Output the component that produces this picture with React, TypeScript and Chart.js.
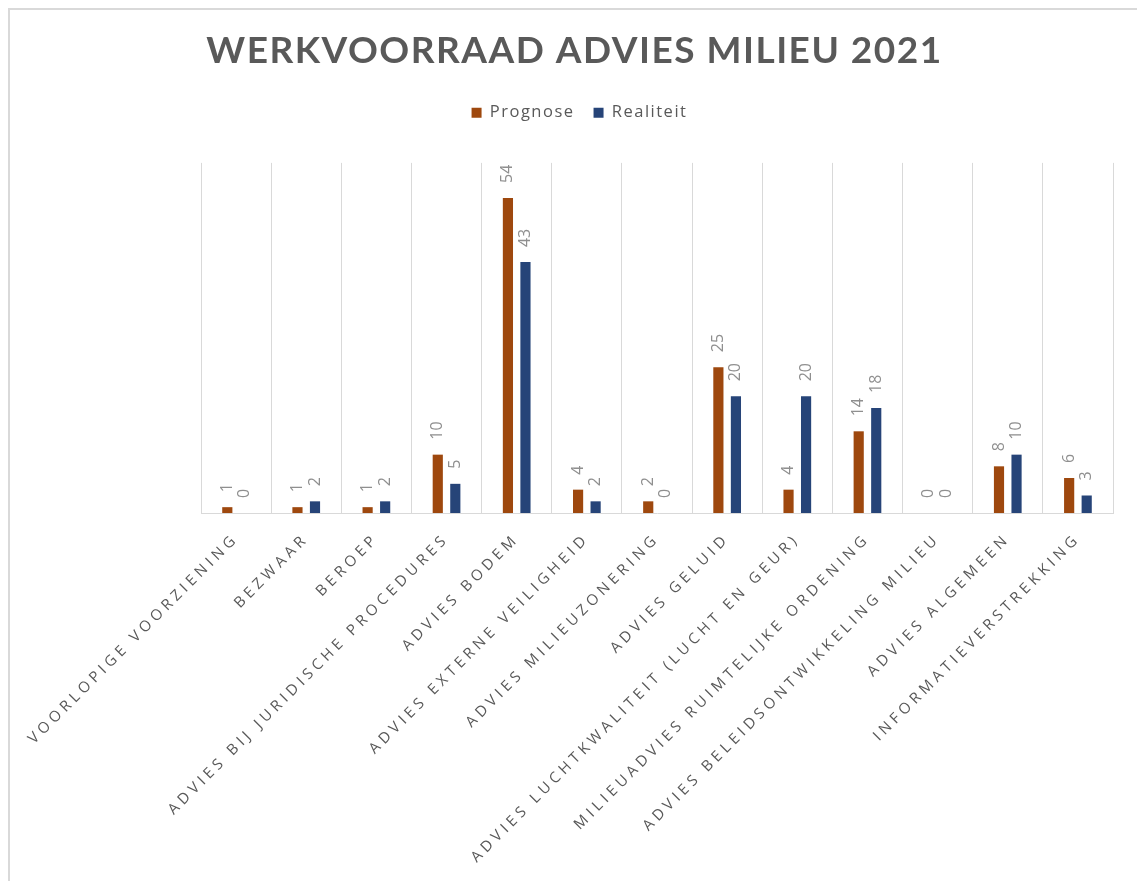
import React, { useEffect, useRef } from "react";
import { Chart, registerables } from "chart.js";

Chart.register(...registerables);

const categories = [
  "VOORLOPIGE VOORZIENING",
  "BEZWAAR",
  "BEROEP",
  "ADVIES BIJ JURIDISCHE PROCEDURES",
  "ADVIES BODEM",
  "ADVIES EXTERNE VEILIGHEID",
  "ADVIES MILIEUZONERING",
  "ADVIES GELUID",
  "ADVIES LUCHTKWALITEIT (LUCHT EN GEUR)",
  "MILIEUADVIES RUIMTELIJKE ORDENING",
  "ADVIES BELEIDSONTWIKKELING MILIEU",
  "ADVIES ALGEMEEN",
  "INFORMATIEVERSTREKKING",
];
const prognose = [1, 1, 1, 10, 54, 4, 2, 25, 4, 14, 0, 8, 6];
const realiteit = [0, 2, 2, 5, 43, 2, 0, 20, 20, 18, 0, 10, 3];

const TITLE_FONT = "Lato, 'Open Sans', sans-serif";
const FONT = "'Open Sans', Lato, sans-serif";

function withSpacing(obj: any, name: string, spacing: string, dx = 0) {
  const orig = obj[name];
  obj[name] = function (...args: any[]) {
    const c = this.ctx;
    const prev = c.letterSpacing;
    c.letterSpacing = spacing;
    if (dx) {
      c.save();
      c.translate(dx, 0);
    }
    try {
      return orig.apply(this, args);
    } finally {
      if (dx) c.restore();
      c.letterSpacing = prev;
    }
  };
}

const spacingPlugin = {
  id: "spacing",
  beforeInit(chart: any) {
    chart.ctx.letterSpacing = "0px";
    const legend = chart.legend;
    if (legend) {
      const fit = legend.fit;
      legend.fit = function () {
        const c = this.ctx;
        const prev = c.letterSpacing;
        c.letterSpacing = "1.5px";
        fit.call(this);
        c.letterSpacing = prev;
        this.height += 32;
      };
      withSpacing(legend, "draw", "1.5px", 5);
    }
    if (chart.titleBlock) withSpacing(chart.titleBlock, "draw", "1.5px");
  },
  beforeLayout(chart: any) {
    const x = chart.scales.x;
    if (x && !x.__wrapped) {
      x.__wrapped = true;
      withSpacing(x, "update", "4.2px");
      withSpacing(x, "drawLabels", "4.2px");
    }
  },
};

const labelPlugin = {
  id: "barLabels",
  afterDatasetsDraw(chart: any) {
    const ctx = chart.ctx;
    ctx.save();
    ctx.letterSpacing = "0px";
    ctx.font = `16px ${FONT}`;
    ctx.fillStyle = "#8f8f8f";
    ctx.textAlign = "left";
    ctx.textBaseline = "middle";
    chart.data.datasets.forEach((ds: any, i: number) => {
      const meta = chart.getDatasetMeta(i);
      meta.data.forEach((bar: any, j: number) => {
        ctx.save();
        ctx.translate(bar.x, bar.y - 15);
        ctx.rotate(-Math.PI / 2);
        ctx.fillText(String(ds.data[j]), 0, 0);
        ctx.restore();
      });
    });
    ctx.restore();
  },
};

export default function App() {
  const ref = useRef<HTMLCanvasElement | null>(null);
  useEffect(() => {
    if (!ref.current) return;
    const chart = new Chart(ref.current, {
      type: "bar",
      data: {
        labels: categories,
        datasets: [
          {
            label: "Prognose",
            data: prognose,
            backgroundColor: "#9E480E",
            categoryPercentage: 0.5,
            barPercentage: 0.58,
          },
          {
            label: "Realiteit",
            data: realiteit,
            backgroundColor: "#264478",
            categoryPercentage: 0.5,
            barPercentage: 0.58,
          },
        ],
      },
      options: {
        responsive: false,
        animation: false,
        layout: { padding: { left: 0, right: 0, top: 0, bottom: 7 } },
        plugins: {
          title: {
            display: true,
            text: "WERKVOORRAAD ADVIES MILIEU 2021",
            color: "#595959",
            font: { family: TITLE_FONT, size: 37, weight: "bold" },
            padding: { top: 19, bottom: 12 },
          },
          legend: {
            display: true,
            labels: {
              color: "#595959",
              font: { family: FONT, size: 16.5 },
              boxWidth: 10,
              boxHeight: 10,
              padding: 19,
            },
          },
          tooltip: { enabled: false },
        },
        scales: {
          x: {
            grid: { display: true, offset: true, color: "#d9d9d9", lineWidth: 1, drawTicks: false },
            border: { display: true, color: "#d9d9d9" },
            ticks: {
              color: "#595959",
              font: { family: FONT, size: 15 },
              maxRotation: 45,
              minRotation: 45,
              autoSkip: false,
              padding: 17,
            },
            afterFit: (s: any) => {
              s.height = 368;
              s.paddingLeft = 0;
              s.paddingRight = 0;
            },
          },
          y: {
            display: true,
            min: 0,
            max: 60,
            ticks: { display: false },
            grid: { display: false },
            border: { display: false },
            afterFit: (s: any) => {
              s.width = 191;
            },
          },
          yR: {
            type: "linear",
            position: "right",
            display: true,
            ticks: { display: false },
            grid: { display: false },
            border: { display: false },
            afterFit: (s: any) => {
              s.width = 26;
            },
          },
        },
      },
      plugins: [spacingPlugin, labelPlugin],
    });
    return () => chart.destroy();
  }, []);
  return (
    <div
      style={{
        width: 1133,
        height: 880,
        border: "2px solid #d9d9d9",
        borderBottom: "none",
        boxSizing: "border-box",
        background: "#fff",
      }}
    >
      <canvas ref={ref} width={1129} height={878} style={{ display: "block" }} />
    </div>
  );
}
